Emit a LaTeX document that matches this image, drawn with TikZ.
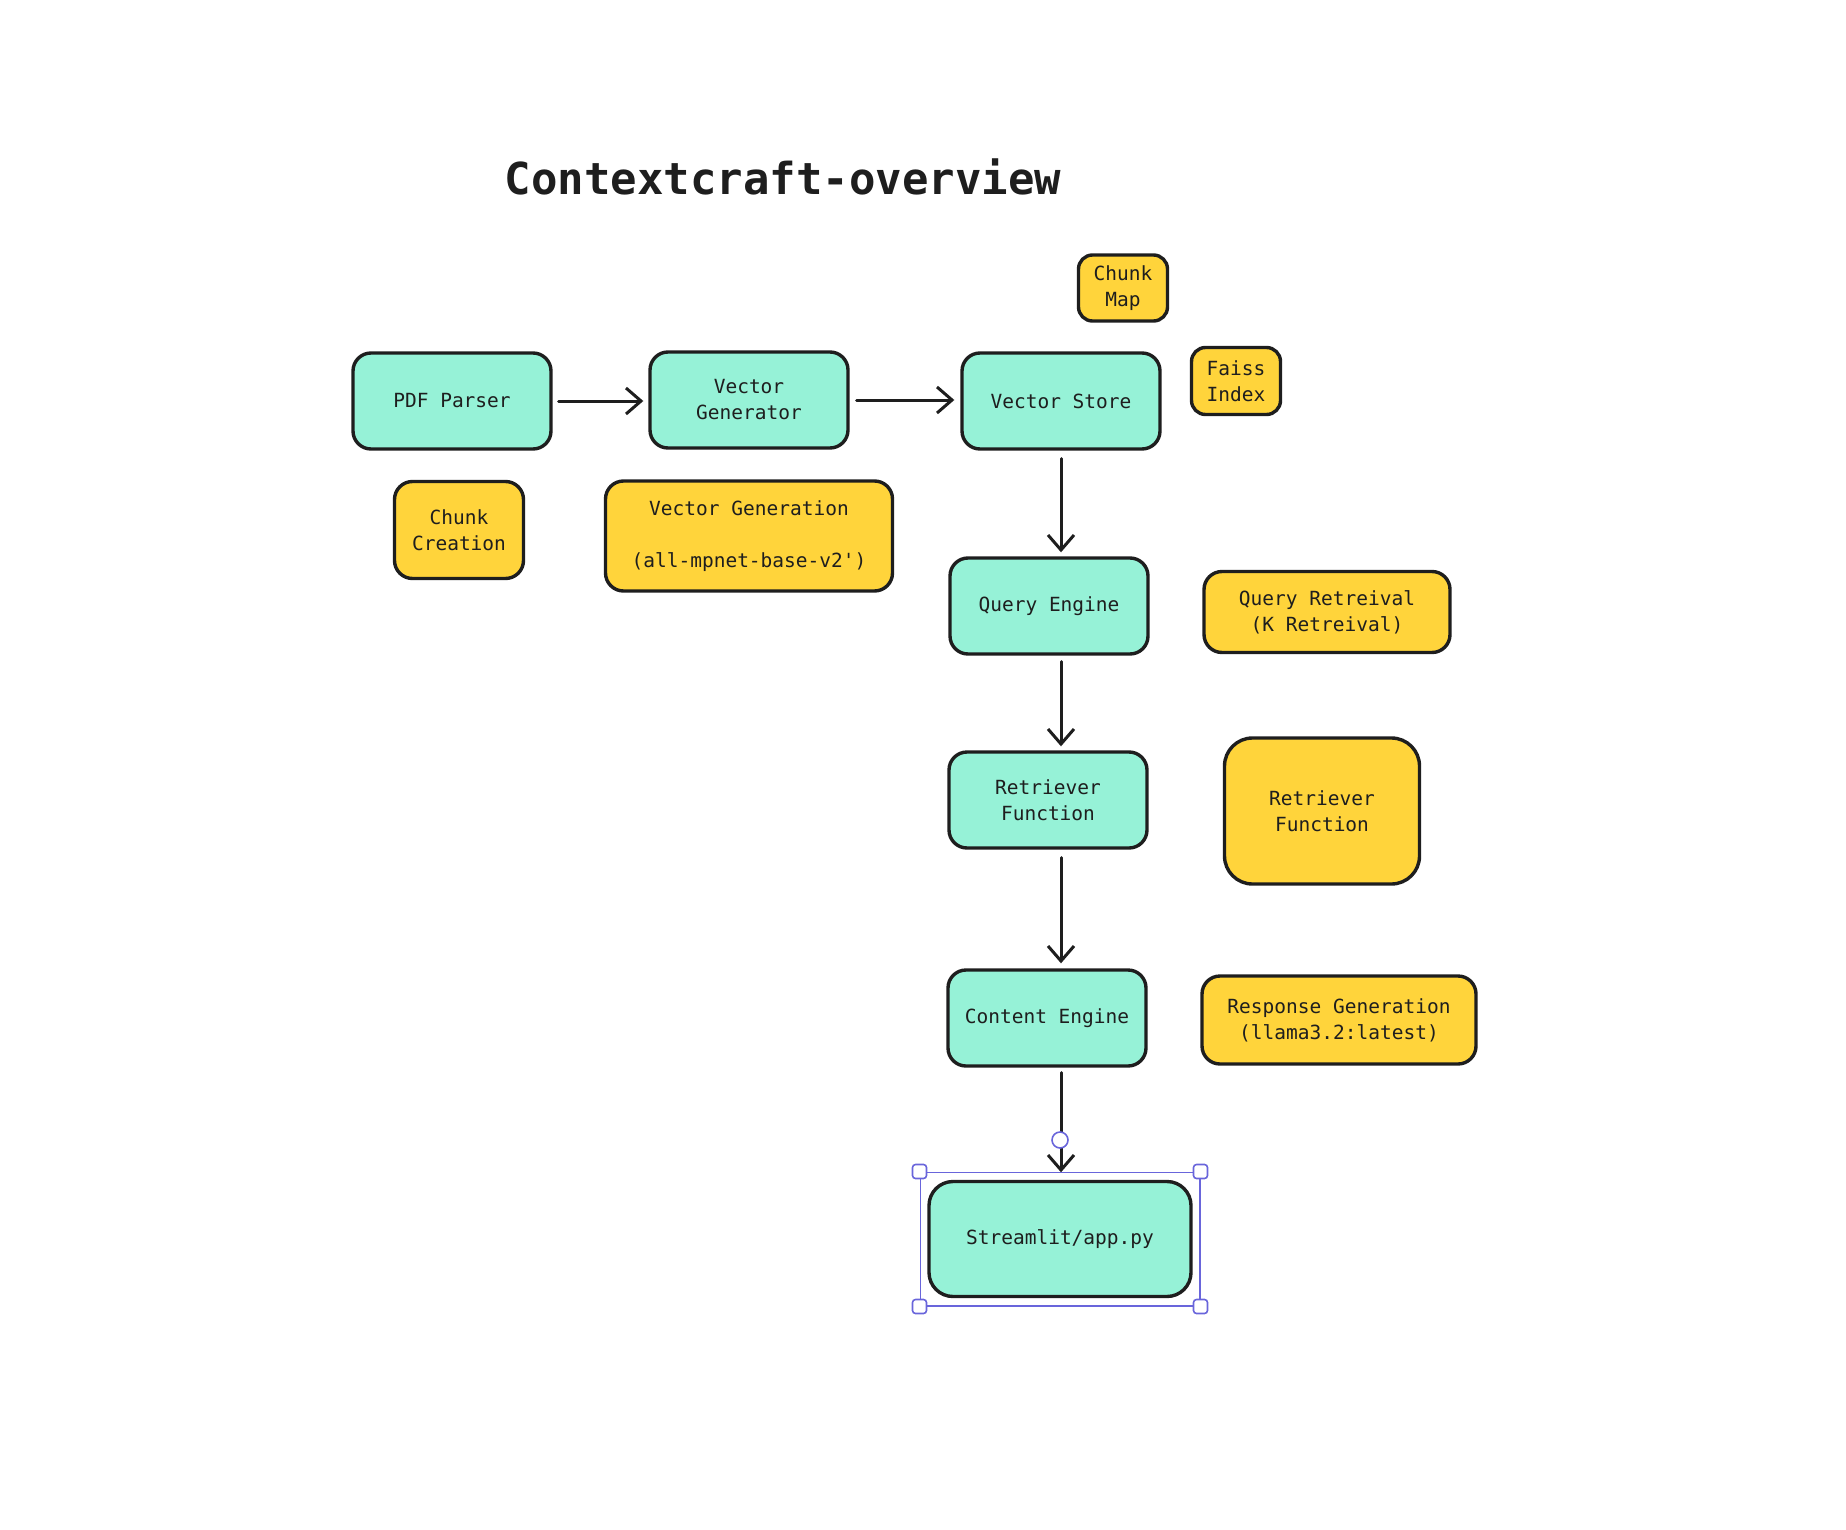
\documentclass[tikz,border=0pt]{standalone}
\usepackage{fontspec}
\setmonofont{DejaVu Sans Mono}
\usetikzlibrary{arrows.meta, positioning, fit}

\definecolor{ink}{HTML}{1E1E1E}
\definecolor{mint}{HTML}{96F2D7}
\definecolor{sun}{HTML}{FFD43B}
\definecolor{selpurple}{HTML}{6965DB}

\tikzset{
  box/.style={draw=ink, line width=3.4pt, rounded corners=18pt, align=center,
    font=\ttfamily\fontsize{19.5}{26}\selectfont, text=ink, inner sep=0pt},
  stagebox/.style={box, fill=mint, minimum width=198pt, minimum height=96pt},
  notebox/.style={box, fill=sun},
  arr/.style={draw=ink, line width=3pt, line cap=round,
    -{Straight Barb[length=15pt,width=26pt,line width=3pt]}},
  handle/.style={draw=selpurple, fill=white, line width=1.6pt, minimum size=14pt,
    rounded corners=3pt, inner sep=0pt}
}

\begin{document}
\begin{tikzpicture}[x=1pt, y=-1pt]
\useasboundingbox (0,0) rectangle (1846,1530);

\node[font=\ttfamily\bfseries\fontsize{44}{50}\selectfont, text=ink] (title) at (783,177) {Contextcraft-overview};

% pipeline
\node[stagebox] (pdf) at (452,401) {PDF Parser};
\node[stagebox] (vgen) at (749,400) {Vector\\Generator};
\node[stagebox] (vstore) at (1061,401) {Vector Store};
\node[stagebox] (query) at (1049,606) {Query Engine};
\node[stagebox] (retr) at (1048,800) {Retriever\\Function};
\node[stagebox] (content) at (1047,1018) {Content Engine};
\node[stagebox, minimum width=262pt, minimum height=115pt, rounded corners=24pt] (app) at (1060,1239) {Streamlit/app.py};

% notes
\node[notebox, minimum width=89pt, minimum height=66pt, rounded corners=14pt] (chunkmap) at (1123,288) {Chunk\\Map};
\node[notebox, minimum width=89pt, minimum height=67pt, rounded corners=14pt] (faiss) at (1236,381) {Faiss\\Index};
\node[notebox, minimum width=129pt, minimum height=97pt] (chunkcr) at (459,530) {Chunk\\Creation};
\node[notebox, minimum width=287pt, minimum height=110pt] (vgennote) at (749,536) {Vector Generation\\[26pt](all-mpnet-base-v2')};
\node[notebox, minimum width=246pt, minimum height=81pt] (qnote) at (1327,612) {Query Retreival\\(K Retreival)};
\node[notebox, minimum width=195pt, minimum height=146pt, rounded corners=28pt] (rnote) at (1322,811) {Retriever\\Function};
\node[notebox, minimum width=274pt, minimum height=88pt] (respnote) at (1339,1020) {Response Generation\\(llama3.2:latest)};

% arrows
\draw[arr, shorten <=6pt, shorten >=5pt] (pdf.east) -- (pdf.east -| vgen.west);
\draw[arr, shorten <=7pt, shorten >=6pt] (vgen.east) -- (vgen.east -| vstore.west);
\draw[arr, shorten <=8pt, shorten >=4pt] (vstore.south) -- (vstore.south |- query.north);
\draw[arr, shorten <=6pt, shorten >=4pt] (vstore.south |- query.south) -- (vstore.south |- retr.north);
\draw[arr, shorten <=8pt, shorten >=5pt] (vstore.south |- retr.south) -- (vstore.south |- content.north);
\draw[arr, shorten <=5pt, shorten >=7.5pt] (content.south -| vstore.south) -- (app.north -| vstore.south);

% selection frame
\node[draw=selpurple, line width=1.6pt, fit=(app), inner xsep=7pt, inner ysep=7.5pt] (sel) {};
\foreach \c/\n in {north west/nw, north east/ne, south west/sw, south east/se}
  \node[handle] (h\n) at (sel.\c) {};
\node[circle, draw=selpurple, fill=white, line width=1.6pt, minimum size=16pt, inner sep=0pt] (rot) at (1060,1140) {};
\end{tikzpicture}
\end{document}
